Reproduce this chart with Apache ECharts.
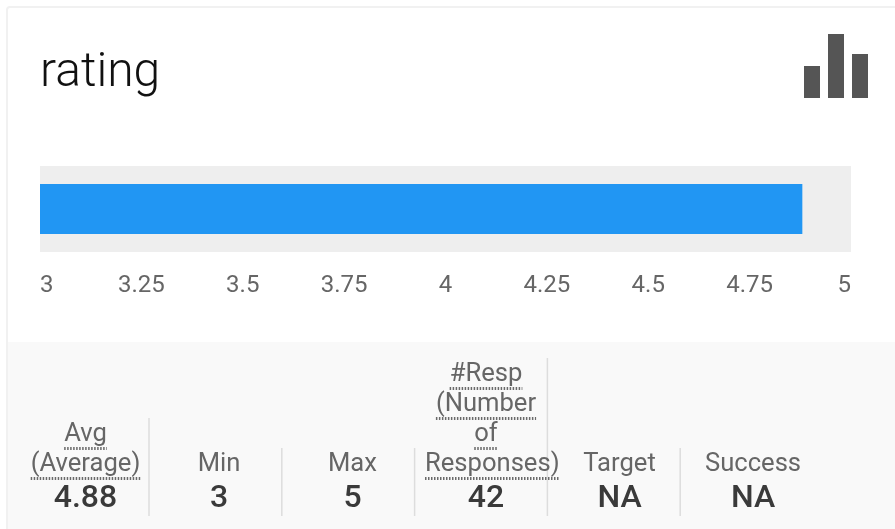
<!DOCTYPE html>
<html>
<head>
<meta charset="utf-8">
<style>
  html, body { margin: 0; padding: 0; background: #fff; }
  #main { width: 895px; height: 529px; }
</style>
<script src="https://cdn.jsdelivr.net/npm/echarts@6/dist/echarts.min.js"></script>
</head>
<body>
<div id="main"></div>
<script>
var categories = ['rating'];
var ratingValues = [4.88];
var tickMin = 3;
var tickMax = 5;
var tickStep = 0.25;
var statLabels = [
    ['Avg', '(Average)'],
    ['Min'],
    ['Max'],
    ['#Resp', '(Number', 'of', 'Responses)'],
    ['Target'],
    ['Success']
];
var statValues = ['4.88', '3', '5', '42', 'NA', 'NA'];
var dottedLabels = ['Avg', '#Resp'];
var iconHeights = [32, 64, 44];

var FONT = 'Roboto, sans-serif';
var LABEL_FONT = '400 25.6px ' + FONT;
var COLUMN_WIDTH = 122;
var measure = document.createElement('canvas').getContext('2d');
measure.font = LABEL_FONT;

var graphics = [
    // card and footer
    {type: 'rect', z: -2, shape: {x: 7, y: 7, width: 900, height: 530, r: 3}, style: {fill: '#fff', stroke: '#f1f1f1', lineWidth: 2}},
    {type: 'rect', z: -1, shape: {x: 8, y: 342, width: 887, height: 187}, style: {fill: '#f9f9f9'}}
];

// chart icon, top right
iconHeights.forEach(function (h, i) {
    graphics.push({type: 'rect', shape: {x: 804 + i * 24, y: 98 - h, width: 16, height: h}, style: {fill: '#555555'}});
});

statLabels.forEach(function (lines, i) {
    var cx = 85.5 + i * 133.5;
    // separators go first so the long label runs over them
    if (i < statLabels.length - 1) {
        var sepX = 149 + i * 132.8;
        graphics.push({type: 'line', z: 0,
            shape: {x1: sepX, y1: 478 - 30 * lines.length, x2: sepX, y2: 516},
            style: {stroke: '#dddddd', lineWidth: 1.5}
        });
    }
    lines.forEach(function (line, j) {
        var y = 464.5 - (lines.length - 1 - j) * 30;
        var w = measure.measureText(line).width;
        // a word wider than its column runs over to the right
        var left = w > COLUMN_WIDTH ? cx - COLUMN_WIDTH / 2 : cx - w / 2;
        graphics.push({type: 'text', z: 2, style: {
            x: left, y: y, text: line, fill: '#666666', font: LABEL_FONT,
            align: 'left', verticalAlign: 'middle'
        }});
        if (dottedLabels.indexOf(lines[0]) >= 0) {
            graphics.push({type: 'line', z: 2,
                shape: {x1: left, y1: y + 14, x2: left + w, y2: y + 14},
                style: {stroke: '#6a6a6a', lineWidth: 3, lineDash: [1.5, 1.5]}
            });
        }
    });
    graphics.push({type: 'text', z: 2, style: {
        x: cx, y: 499, text: statValues[i], fill: '#3a3a3a', font: '500 32px ' + FONT,
        align: 'center', verticalAlign: 'middle'
    }});
});

var myChart = echarts.init(document.getElementById('main'), null, {renderer: 'canvas'});
myChart.setOption({
    animation: false,
    backgroundColor: '#fff',
    title: {
        text: categories[0],
        left: 40,
        top: 50,
        padding: 0,
        textStyle: {fontFamily: FONT, fontWeight: 300, fontSize: 48, color: '#111111'}
    },
    grid: {
        left: 40, right: 44, top: 166, height: 86,
        show: true, backgroundColor: '#eeeeee', borderWidth: 0
    },
    xAxis: {
        type: 'value',
        min: tickMin,
        max: tickMax,
        interval: tickStep,
        axisLine: {show: false},
        axisTick: {show: false},
        splitLine: {show: false},
        axisLabel: {
            margin: 22,
            alignMinLabel: 'left',
            alignMaxLabel: 'right',
            color: '#666666',
            fontFamily: FONT,
            fontWeight: 400,
            fontSize: 24
        }
    },
    yAxis: {
        type: 'category',
        data: categories,
        axisLine: {show: false},
        axisTick: {show: false},
        axisLabel: {show: false}
    },
    series: [{
        type: 'bar',
        data: ratingValues,
        barWidth: 50,
        itemStyle: {color: '#2196f3'}
    }],
    graphic: {elements: graphics}
});
</script>
</body>
</html>
